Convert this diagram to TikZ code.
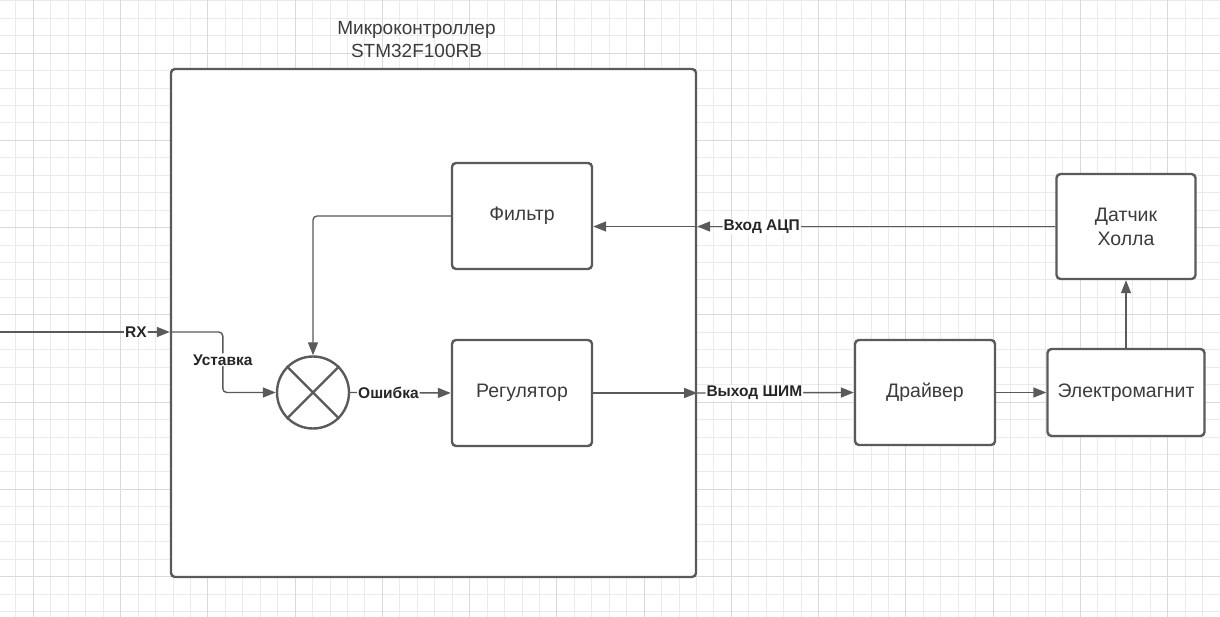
\documentclass[tikz,border=0pt]{standalone}
\usepackage{fontspec}
\setmainfont{Liberation Sans}
\usetikzlibrary{arrows.meta}

\definecolor{linegray}{HTML}{5A5A5A}
\definecolor{textgray}{HTML}{3C3C3C}
\definecolor{gridminor}{HTML}{EBEBEB}
\definecolor{gridmajor}{HTML}{DADADA}

\tikzset{
	block/.style={draw=linegray, line width=2.4pt, fill=white, rounded corners=4pt,
		text=textgray, font=\fontsize{19.5}{24}\selectfont, align=center, inner sep=0pt},
	wire/.style={draw=linegray, line width=1.4pt, rounded corners=4pt,
		-{Triangle[length=13pt,width=10pt]}},
	tag/.style={fill=white, text=black!85, font=\bfseries\fontsize{15.5}{17}\selectfont, inner sep=1pt},
}

\begin{document}
\begin{tikzpicture}[x=1pt, y=-1pt]
		
		\useasboundingbox (0,0) rectangle (1220,617);
		
		% background grid
		\fill[white] (0,0) rectangle (1220,617);
		\foreach \k in {0,...,69}{
			\draw[gridminor, line width=0.8pt] ({15.85+17.45*\k},0) -- ({15.85+17.45*\k},617);
		}
		\foreach \k in {0,...,35}{
			\draw[gridminor, line width=0.8pt] (0,{0.7+17.45*\k}) -- (1220,{0.7+17.45*\k});
		}
		\foreach \k in {0,...,13}{
			\draw[gridmajor, line width=0.8pt] ({33.3+87.25*\k},0) -- ({33.3+87.25*\k},617);
		}
		\foreach \k in {0,...,6}{
			\draw[gridmajor, line width=0.8pt] (0,{53.05+87.25*\k}) -- (1220,{53.05+87.25*\k});
		}
		
		% microcontroller
		\node[block, minimum width=525pt, minimum height=508pt] (micro) at (433.5,323) {};
		\node[text=textgray, font=\fontsize{19}{23}\selectfont, align=center] (title) at (416.5,40) {Микроконтроллер\\STM32F100RB};
		
		% blocks
		\node[block, minimum width=140pt, minimum height=106pt] (filter) at (522,216) {Фильтр};
		\node[block, minimum width=140pt, minimum height=106pt] (reg) at (522,393) {Регулятор};
		\node[block, circle, minimum size=72pt] (sum) at (313,392.5) {};
		\draw[linegray, line width=2.4pt] (sum.north west) -- (sum.south east);
		\draw[linegray, line width=2.4pt] (sum.north east) -- (sum.south west);
		\node[block, minimum width=140pt, minimum height=105pt] (driver) at (925,392.5) {Драйвер};
		\node[block, minimum width=157pt, minimum height=87pt] (magnet) at (1126,392.5) {Электромагнит};
		\node[block, minimum width=139pt, minimum height=105pt] (hall) at (1126,226.5) {Датчик\\Холла};
		
		% ports on the microcontroller border
		\coordinate (rxin) at (0,332);
		\coordinate (rxport) at (micro.west |- rxin);
		\coordinate (pwmport) at (micro.east |- reg.east);
		\coordinate (adcport) at (micro.east |- hall.west);
		
		% setpoint path
		\draw[wire] (rxin) -- node[tag, pos=0.8] {RX} (rxport);
		\draw[wire] (rxport) -- ++(53,0) |- node[tag, pos=0.23] {Уставка} (sum.west);
		
		% control loop
		\draw[wire] (filter.west) -| (sum.north);
		\draw[wire] (sum.east) -- node[tag, pos=0.38] {Ошибка} (reg.west);
		\draw[wire] (reg.east) -- (pwmport);
		\draw[wire] (pwmport) -- node[tag, pos=0.365] {Выход ШИМ} (driver.west);
		\draw[wire] (driver.east) -- (magnet.west);
		\draw[wire] (magnet.north) -- (hall.south);
		\draw[wire] (hall.west) -- node[tag, pos=0.82] {Вход АЦП} (adcport);
		\draw[wire] (adcport) -- (filter.east |- adcport);
		
\end{tikzpicture}
\end{document}
